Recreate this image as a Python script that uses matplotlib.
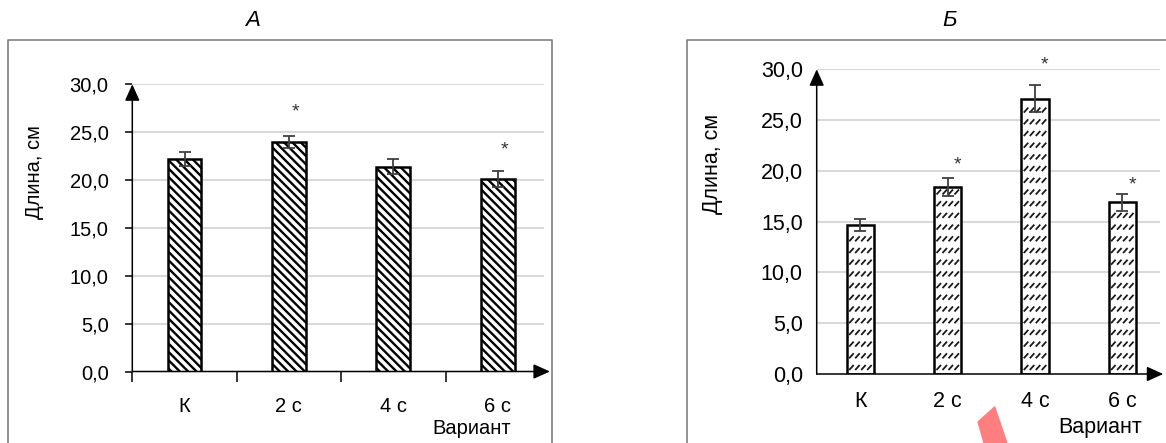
import numpy as np
import matplotlib.pyplot as plt
from matplotlib.lines import Line2D
from matplotlib.patches import Polygon
from matplotlib.collections import LineCollection

plt.rcParams['font.family'] = ['Liberation Sans', 'DejaVu Sans']
plt.rcParams['hatch.linewidth'] = 1.7

# Data
categories = ['К', '2 с', '4 с', '6 с']
length_a = [22.2, 24.0, 21.4, 20.1]
err_a = [0.75, 0.65, 0.8, 0.8]
star_a = [None, 27.8, None, 23.8]
length_b = [14.7, 18.4, 27.1, 16.9]
err_b = [0.6, 0.9, 1.35, 0.85]
star_b = [None, 21.2, 31.1, 19.3]
yticks = [0, 5, 10, 15, 20, 25, 30]

W, H = 1166, 443
fig = plt.figure(figsize=(W / 100, H / 100), dpi=100)


# helper: pixel position (from top-left) -> figure fraction
def fx(x):
    return x / W


def fy(y):
    return 1 - y / H


def px2pt(p):
    return p * 0.72


# Panel frames (gray boxes, cut off by the image edge)
frame = dict(color='#808080', lw=1.2, transform=fig.transFigure)
fig.add_artist(Line2D([fx(8.3), fx(8.3), fx(551.7), fx(551.7)],
                      [0, fy(40), fy(40), 0], **frame))
fig.add_artist(Line2D([fx(686.7), fx(686.7), 1.01],
                      [0, fy(40), fy(40)], **frame))

# Titles
fig.text(fx(253), fy(21), 'А', fontsize=16, style='italic', ha='center', va='center')
fig.text(fx(950), fy(20), 'Б', fontsize=16, style='italic', ha='center', va='center')


def setup_axes(ax, gridend, fs, ypad, ticks):
    x = np.arange(len(categories))
    ax.set_xlim(-0.5, 3.5)
    ax.set_ylim(0, 30)
    for s in ax.spines.values():
        s.set_visible(False)
    ax.patch.set_alpha(0)
    ax.hlines(yticks[1:], -0.5, gridend, color='#d9d9d9', lw=1.5, zorder=0)
    ax.set_yticks(yticks, [f'{v:.1f}'.replace('.', ',') for v in yticks])
    if ticks:
        ax.tick_params(axis='y', length=5, width=1.1, pad=12, labelsize=fs)
        ax.set_xticks([-0.5, 0.5, 1.5, 2.5], [])
        ax.tick_params(axis='x', length=7, width=1.1)
    else:
        ax.tick_params(axis='y', length=0, pad=ypad, labelsize=fs)
        ax.set_xticks([])
    arrow = dict(arrowstyle='-|>,head_length=10,head_width=4.5', lw=1.1,
                 color='black', mutation_scale=1, shrinkA=0, shrinkB=0)
    ax.annotate('', xy=(-0.5, 30), xytext=(-0.5, 0), arrowprops=arrow,
                annotation_clip=False)
    return x


def draw_stars(ax, x, stars, dx):
    for xi, s in zip(x, stars):
        if s is not None:
            ax.annotate('*', xy=(xi, s), xytext=(px2pt(dx), -8),
                        textcoords='offset points', ha='center', va='baseline',
                        fontsize=14, color='#333333', annotation_clip=False)


# ---- Panel A ----
axA = fig.add_axes([fx(132.3), 1 - 371.5 / H, 417.6 / W, 287.2 / H])
x = setup_axes(axA, 3.44, 14.5, 11, True)
axA.annotate('', xy=(3.5, 0), xytext=(-0.5, 0),
             arrowprops=dict(arrowstyle='-|>,head_length=10,head_width=4.5', lw=1.1,
                             color='black', mutation_scale=1, shrinkA=0, shrinkB=0),
             annotation_clip=False)
axA.bar(x, length_a, width=0.325, color='white', edgecolor='black', lw=1.8,
        hatch='\\\\\\\\', zorder=2)
axA.errorbar(x, length_a, yerr=err_a, fmt='none', ecolor='#404040', elinewidth=1.3,
             capsize=4, capthick=1.3, zorder=4)
draw_stars(axA, x, star_a, 7)
for xi, c in zip(x, categories):
    axA.annotate(c, xy=(xi, 0), xytext=(0, px2pt(-34.5)), textcoords='offset points',
                 ha='center', va='center', fontsize=14.5, annotation_clip=False)
fig.text(fx(472), fy(428), 'Вариант', fontsize=14.5, ha='center', va='center')
fig.text(fx(35), fy(172.5), 'Длина, см', fontsize=14.5, rotation=90,
         ha='center', va='center')

# ---- Panel B ----
axB = fig.add_axes([fx(816.7), 1 - 374 / H, 349.2 / W, 304.7 / H])
x = setup_axes(axB, 3.43, 15.5, 10, False)
axB.annotate('', xy=(3.47, 0), xytext=(-0.5, 0),
             arrowprops=dict(arrowstyle='-|>,head_length=10,head_width=4.5', lw=1.1,
                             color='black', mutation_scale=1, shrinkA=0, shrinkB=0),
             annotation_clip=False)
bw = 0.313
axB.bar(x, length_b, width=bw, color='white', edgecolor='black', lw=1.8, zorder=2)
axB.errorbar(x, length_b, yerr=err_b, fmt='none', ecolor='#404040', elinewidth=1.3,
             capsize=4.5, capthick=1.3, zorder=4)
draw_stars(axB, x, star_b, 10)

# short dashed diagonal fill inside the B bars
to_px = axB.transData
to_data = axB.transData.inverted()
segs = []
for xi, v in zip(x, length_b):
    (l, b), (r, t) = to_px.transform([(xi - bw / 2, 0), (xi + bw / 2, v)])
    yy = b + 4
    while yy < t - 7:
        xx = l + 2.5
        while xx + 4 < r - 1.5:
            p0, p1 = to_data.transform([(xx, yy), (xx + 4.5, yy + 5)])
            segs.append([p0, p1])
            xx += 6
        yy += 11.7
axB.add_collection(LineCollection(segs, colors='#1a1a1a', linewidths=1.3, zorder=3))

for xi, c in zip(x, categories):
    axB.annotate(c, xy=(xi, 0), xytext=(0, px2pt(-27.5)), textcoords='offset points',
                 ha='center', va='center', fontsize=15.5, annotation_clip=False)
fig.text(fx(1100), fy(427), 'Вариант', fontsize=15.5, ha='center', va='center')
fig.text(fx(713), fy(164), 'Длина, см', fontsize=15.5, rotation=90,
         ha='center', va='center')

# red mark at the bottom of the picture
fig.add_artist(Polygon([(fx(995), fy(405.7)), (fx(977.3), fy(421.7)),
                        (fx(983.3), fy(443)), (fx(1007.7), fy(443))],
                       closed=True, color='#ff7f80', lw=0, transform=fig.transFigure))

fig.savefig('out.png', dpi=100)
